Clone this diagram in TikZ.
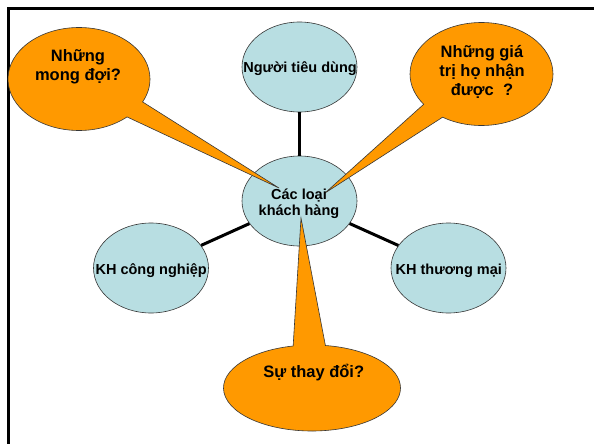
\documentclass[tikz,border=0pt]{standalone}
\usepackage{fontspec}
\setmainfont{Liberation Sans}
\usetikzlibrary{shapes.geometric,shapes.callouts}
\definecolor{bubble}{RGB}{255,153,0}
\definecolor{topic}{RGB}{184,222,226}
\definecolor{rim}{RGB}{55,55,55}
\begin{document}
\begin{tikzpicture}[x=1pt,y=-1pt,
  topicnode/.style={ellipse, draw=rim, line width=0.6pt, fill=topic, inner sep=0pt,
    minimum width=115pt, minimum height=90pt},
  link/.style={line width=3pt, draw=black},
  balloon/.style={ellipse callout, draw=rim, line width=0.6pt, fill=bubble, inner sep=0pt,
    callout pointer arc=21},
  bigtext/.style={font=\fontsize{16.5}{19}\selectfont\bfseries, align=center, anchor=base, inner sep=0pt},
  smalltext/.style={font=\fontsize{14.5}{16}\selectfont\bfseries, align=center, anchor=base, inner sep=0pt},
]
\useasboundingbox (0,0) rectangle (594,444);
\fill[white] (0,0) rectangle (594,444);
% slide frame: top and left edges
\draw[line width=2.5pt] (8.5,444) -- (8.5,8.5) -- (594,8.5);

% customer-type topics
\node[topicnode] (consumer) at (299.5,67) {};
\node[topicnode] (industry) at (151,268) {};
\node[topicnode] (trade) at (448.5,268) {};
\node[topicnode] (center) at (299.5,201) {};

\draw[link] (consumer) -- (center);
\draw[link] (center) -- (industry);
\draw[link] (center) -- (trade);

% question balloons pointing at the centre
\coordinate (tipexpect) at (279,188);
\coordinate (tipvalue) at (325,193);
\coordinate (tipchange) at (301,218);
\node[balloon, minimum width=142pt, minimum height=103pt,
  callout absolute pointer={(tipexpect)}] (expect) at (79,79) {};
\node[balloon, minimum width=143pt, minimum height=103pt,
  callout absolute pointer={(tipvalue)}] (value) at (481.5,74) {};
\node[balloon, minimum width=177pt, minimum height=86pt,
  callout absolute pointer={(tipchange)}] (change) at (312,388) {};

% labels (multi-line labels sit on the baseline of their last line)
\node[smalltext] (consumerlabel) at (300,72.7) {Người tiêu dùng};
\node[smalltext] (industrylabel) at (151.2,274) {KH công nghiệp};
\node[smalltext] (tradelabel) at (448.8,274) {KH thương mại};
\node[smalltext] (centerlabel) at (299,215) {Các loại\\khách hàng};
\node[bigtext] (expectlabel) at (78,81) {Những\\mong đợi?};
\node[bigtext, font=\fontsize{16.5}{18.5}\selectfont\bfseries] (valuelabel) at (482,95) {Những giá\\trị họ nhận\\được~~?};
\node[bigtext] (changelabel) at (313.7,377.3) {Sự thay đổi?};
\end{tikzpicture}
\end{document}
